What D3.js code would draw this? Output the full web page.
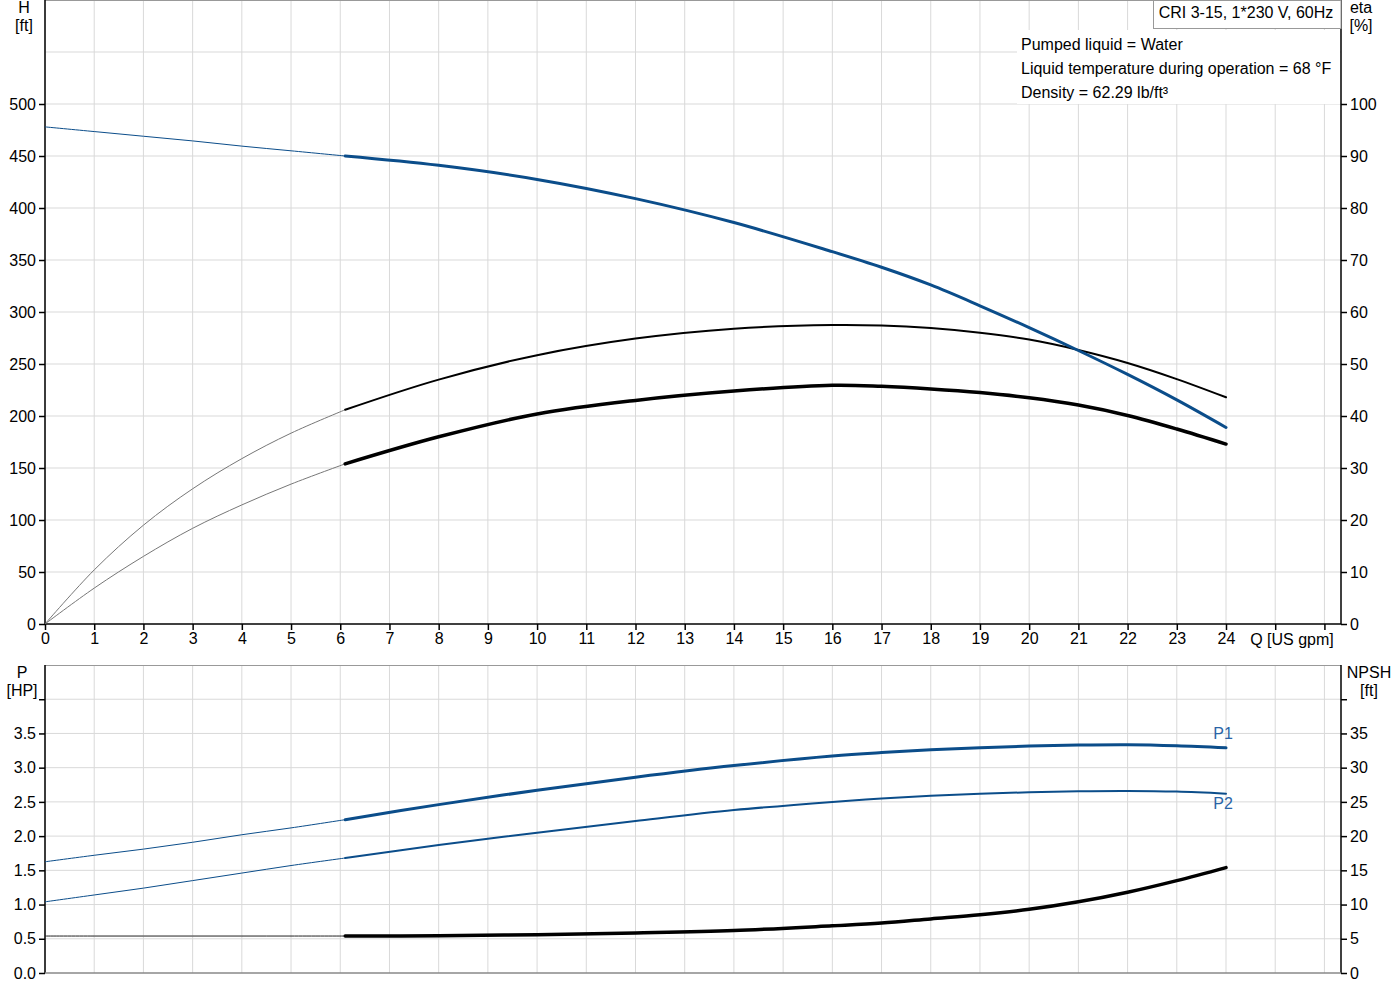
<!DOCTYPE html>
<html>
<head>
<meta charset="utf-8">
<script src="https://cdn.jsdelivr.net/npm/d3@7"></script>
<style>
    body { margin: 0; background: #fff; }
    svg text { font-family: "Liberation Sans", Arial, sans-serif; }
</style>
</head>
<body>
<div id="chart"></div>
<script>

// flow points [US gpm] shared by all curves, first 7 points are the thin (outside range) part
let flowQ = [0, 1, 2, 3, 4, 5, 6.1, 8, 10, 12, 14, 16, 17, 18, 19, 20, 21, 22, 23, 24];
let splitIndex = 6;

let headH = [478, 473.5, 469, 464.5, 459.5, 455, 450, 441, 427.5, 409, 386, 358, 343, 326, 306, 285, 263, 240, 215.5, 189];
let etaPump = [0, 10.4, 19, 26, 31.8, 36.7, 41.2, 47, 51.7, 54.9, 56.8, 57.5, 57.4, 56.9, 56, 54.7, 52.7, 50.2, 47.1, 43.6];
let etaTotal = [0, 6.9, 13, 18.4, 22.9, 26.9, 30.8, 36, 40.4, 43, 44.8, 45.9, 45.7, 45.2, 44.5, 43.5, 42.1, 40.1, 37.5, 34.6];

let powerP1 = [1.625, 1.72, 1.81, 1.91, 2.02, 2.12, 2.24, 2.46, 2.67, 2.86, 3.03, 3.17, 3.22, 3.26, 3.29, 3.315, 3.33, 3.335, 3.32, 3.29];
let powerP2 = [1.04, 1.14, 1.24, 1.35, 1.46, 1.57, 1.68, 1.87, 2.05, 2.22, 2.38, 2.5, 2.55, 2.59, 2.62, 2.64, 2.655, 2.66, 2.65, 2.62];
let npshFt = [5.4, 5.4, 5.4, 5.4, 5.4, 5.4, 5.4, 5.45, 5.6, 5.85, 6.2, 6.9, 7.3, 7.9, 8.5, 9.3, 10.4, 11.8, 13.5, 15.4];

let qTicks = d3.range(0, 27);
let hTicks = d3.range(0, 501, 50);
let etaTicks = d3.range(0, 101, 10);
let pTicks = d3.range(0, 4.01, 0.5);
let npshTicks = d3.range(0, 41, 5);

let infoLines = ['Pumped liquid = Water', 'Liquid temperature during operation = 68 °F', 'Density = 62.29 lb/ft³'];
let titleText = 'CRI 3-15, 1*230 V, 60Hz';

let BLUE = '#0b4d8a';
let GRID = '#d9d9d9';
let FONT = '16px';

let W = 1400, H = 1000;
let left = 45, right = 1341;

let svg = d3.select('#chart').append('svg')
    .attr('width', W)
    .attr('height', H);

let xScale = d3.scaleLinear().domain([0, 24]).range([left, 1226]);

// top panel scales
let hScale = d3.scaleLinear().domain([0, 600]).range([624, 0]);
let etaScale = d3.scaleLinear().domain([0, 120]).range([624, 0]);

// bottom panel scales
let pScale = d3.scaleLinear().domain([0, 4.5]).range([973, 665]);
let npshScale = d3.scaleLinear().domain([0, 45]).range([973, 665]);

function drawGrid(yScale, yGrid, top, bottom) {
    let g = svg.append('g');
    g.selectAll('line.v')
        .data(qTicks)
        .enter()
        .append('line')
        .attr('x1', (d) => xScale(d))
        .attr('x2', (d) => xScale(d))
        .attr('y1', top)
        .attr('y2', bottom)
        .attr('stroke', GRID)
        .attr('stroke-width', 1);
    g.selectAll('line.h')
        .data(yGrid)
        .enter()
        .append('line')
        .attr('x1', left)
        .attr('x2', right)
        .attr('y1', (d) => yScale(d))
        .attr('y2', (d) => yScale(d))
        .attr('stroke', GRID)
        .attr('stroke-width', 1);
    // top border
    g.append('line')
        .attr('x1', left).attr('x2', right)
        .attr('y1', top + 0.5).attr('y2', top + 0.5)
        .attr('stroke', '#999');
}

drawGrid(hScale, d3.range(50, 551, 50), 0, 624);
drawGrid(pScale, d3.range(0.5, 4.01, 0.5), 665, 973);

function styleAxis(g) {
    g.selectAll('.domain').attr('stroke', '#000').attr('stroke-width', 1.5);
    g.selectAll('.tick line').attr('stroke', '#000').attr('stroke-width', 1.5);
    g.selectAll('.tick text')
        .attr('fill', '#000')
        .style('font-size', FONT)
        .style('font-family', '"Liberation Sans", Arial, sans-serif');
}

// top panel axes
let xAxisTop = svg.append('g')
    .attr('transform', 'translate(0,624)')
    .call(d3.axisBottom(xScale).tickValues(qTicks).tickSize(6).tickSizeOuter(0)
        .tickFormat((d) => d <= 24 ? d : ''));
styleAxis(xAxisTop);
xAxisTop.select('.domain').attr('d', 'M' + left + ',0H' + right);

let hAxis = svg.append('g')
    .attr('transform', 'translate(' + left + ',0)')
    .call(d3.axisLeft(hScale).tickValues(hTicks).tickSize(6).tickSizeOuter(0));
styleAxis(hAxis);
hAxis.select('.domain').attr('d', 'M0,0V624');

let etaAxis = svg.append('g')
    .attr('transform', 'translate(' + right + ',0)')
    .call(d3.axisRight(etaScale).tickValues(etaTicks).tickSize(6).tickSizeOuter(0));
styleAxis(etaAxis);
etaAxis.select('.domain').attr('d', 'M0,0V624');

// bottom panel axes
let pAxis = svg.append('g')
    .attr('transform', 'translate(' + left + ',0)')
    .call(d3.axisLeft(pScale).tickValues(pTicks).tickSize(6).tickSizeOuter(0)
        .tickFormat((d) => d < 3.9 ? d3.format('.1f')(d) : ''));
styleAxis(pAxis);
pAxis.select('.domain').attr('d', 'M0,665V973');

let npshAxis = svg.append('g')
    .attr('transform', 'translate(' + right + ',0)')
    .call(d3.axisRight(npshScale).tickValues(npshTicks).tickSize(6).tickSizeOuter(0)
        .tickFormat((d) => d < 39 ? d : ''));
styleAxis(npshAxis);
npshAxis.select('.domain').attr('d', 'M0,665V973');

// bottom panel x line
svg.append('line')
    .attr('x1', left).attr('x2', right)
    .attr('y1', 973).attr('y2', 973)
    .attr('stroke', '#888').attr('stroke-width', 1.5);

// axis titles
function axisTitle(x, y, lines) {
    let t = svg.append('text')
        .attr('x', x)
        .attr('y', y)
        .attr('text-anchor', 'middle')
        .attr('fill', '#000')
        .style('font-size', FONT);
    lines.forEach((l, i) => {
        t.append('tspan').attr('x', x).attr('dy', i === 0 ? 0 : 18).text(l);
    });
}
axisTitle(24, 13, ['H', '[ft]']);
axisTitle(1361, 13, ['eta', '[%]']);
axisTitle(22, 678, ['P', '[HP]']);
axisTitle(1369, 678, ['NPSH', '[ft]']);

svg.append('text')
    .attr('x', 1292)
    .attr('y', 645)
    .attr('text-anchor', 'middle')
    .attr('fill', '#000')
    .style('font-size', FONT)
    .text('Q [US gpm]');

// curves: thin part up to splitIndex, thick afterwards
function drawCurve(values, yScale, color, thinColor, width) {
    let pts = flowQ.map((q, i) => [xScale(q), yScale(values[i])]);
    let line = d3.line().curve(d3.curveCatmullRom.alpha(0.5));
    svg.append('path')
        .attr('d', line(pts.slice(0, splitIndex + 1)))
        .attr('fill', 'none')
        .attr('stroke', thinColor)
        .attr('stroke-width', 1);
    svg.append('path')
        .attr('d', line(pts.slice(splitIndex)))
        .attr('fill', 'none')
        .attr('stroke', color)
        .attr('stroke-width', width)
        .attr('stroke-linecap', 'round');
}

drawCurve(etaPump, etaScale, '#000', '#777', 2);
drawCurve(etaTotal, etaScale, '#000', '#777', 3.5);
drawCurve(headH, hScale, BLUE, BLUE, 3);

drawCurve(npshFt, npshScale, '#000', '#222', 3.5);
drawCurve(powerP2, pScale, BLUE, BLUE, 2);
drawCurve(powerP1, pScale, BLUE, BLUE, 3);

let last = flowQ.length - 1;
svg.append('text')
    .attr('x', xScale(flowQ[last]) - 3)
    .attr('y', pScale(powerP1[last]) - 9)
    .attr('text-anchor', 'middle')
    .attr('fill', '#2a64a6')
    .style('font-size', FONT)
    .text('P1');
svg.append('text')
    .attr('x', xScale(flowQ[last]) - 3)
    .attr('y', pScale(powerP2[last]) + 15)
    .attr('text-anchor', 'middle')
    .attr('fill', '#2a64a6')
    .style('font-size', FONT)
    .text('P2');

// info box with white background
svg.append('rect')
    .attr('x', 1017).attr('y', 30)
    .attr('width', right - 1017 - 1).attr('height', 74)
    .attr('fill', '#fff');
infoLines.forEach((l, i) => {
    svg.append('text')
        .attr('x', 1021)
        .attr('y', 50 + i * 24)
        .attr('fill', '#000')
        .style('font-size', FONT)
        .text(l);
});

// title box
svg.append('rect')
    .attr('x', 1153.5).attr('y', 0.5)
    .attr('width', right - 1153.5).attr('height', 28)
    .attr('fill', '#fff')
    .attr('stroke', '#999');
svg.append('text')
    .attr('x', 1246)
    .attr('y', 18)
    .attr('text-anchor', 'middle')
    .attr('fill', '#000')
    .style('font-size', FONT)
    .text(titleText);

</script>
</body>
</html>
